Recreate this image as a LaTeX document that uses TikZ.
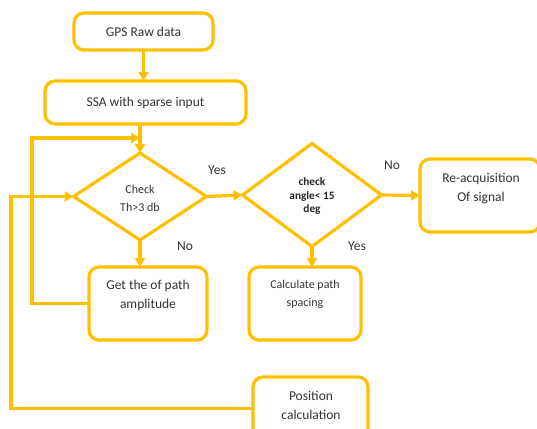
\documentclass[tikz,border=0pt]{standalone}
\usepackage{fontspec}
\setmainfont{Carlito}
\usetikzlibrary{arrows.meta,shapes.geometric}
\definecolor{gold}{HTML}{FFC000}
\begin{document}
\begin{tikzpicture}[x=1pt,y=-1pt,
  box/.style={draw=gold,line width=3.2pt,rounded corners=10pt,inner sep=0pt,outer sep=0pt},
  dia/.style={draw=gold,line width=3.2pt,diamond,inner sep=0pt,outer sep=0pt},
  conn/.style={draw=gold,line width=3.2pt,-{Triangle[length=9pt,width=10pt]}},
  wire/.style={draw=gold,line width=3.2pt},
  txt/.style={font=\fontsize{13.5}{19}\selectfont,text=black!80,align=center},
  stxt/.style={font=\fontsize{12}{18}\selectfont,text=black!80,align=center},
  btxt/.style={font=\bfseries\fontsize{11.3}{13.5}\selectfont,text=black!85,align=center},
  lbl/.style={font=\fontsize{13.5}{15}\selectfont,text=black!80}]
\clip (0,0) rectangle (537,428);
% boxes
\node[box,minimum width=139,minimum height=37,txt] (gps) at (143.5,31.5) {GPS Raw data};
\node[box,minimum width=201,minimum height=43,txt] (ssa) at (145.5,102.5) {SSA with sparse input};
\node[dia,minimum width=133,minimum height=87] (d1) at (140,196.5) {};
\node[stxt] (d1t) at (140,198) {Check\\Th>3 db};
\node[dia,minimum width=139,minimum height=103] (d2) at (312,195) {};
\node[btxt] (d2t) at (312,196) {check\\angle< 15\\deg};
\node[box,minimum width=120,minimum height=73] (rea) at (480,195.5) {};
\node[txt] (reat) at (481,188.5) {Re-acquisition\\Of signal};
\node[box,minimum width=118,minimum height=73] (get) at (148,303.5) {};
\node[txt] (gett) at (148,295.5) {Get the of path\\amplitude};
\node[box,minimum width=112,minimum height=73] (calc) at (305,303.5) {};
\node[stxt] (calct) at (305,294) {Calculate path\\spacing};
\node[box,minimum width=115,minimum height=63] (pos) at (310.5,408.5) {};
\node[txt] (post) at (311,405.5) {Position\\calculation};
% labels
\node[lbl] (y1) at (217,170) {Yes};
\node[lbl] (n1) at (185,246) {No};
\node[lbl] (n2) at (392,165) {No};
\node[lbl] (y2) at (357,246) {Yes};
% helper coordinates
\coordinate (j1) at (140,138);
\coordinate (lx1) at (32,0);
\coordinate (lx2) at (11,0);
% connectors
\draw[conn] (gps.south) -- (gps.south |- ssa.north);
\draw[conn] (d1.north |- ssa.south) -- (d1.north);
\draw[conn] (get.west) -- (get.west -| lx1) |- (j1);
\draw[conn] (pos.west) -- (pos.west -| lx2) |- (d1.west);
\draw[conn] (d1.south) -- (d1.south |- get.north);
\draw[conn] (d1.east) -- (d2.west);
\draw[conn] (d2.east) -- (rea.west);
\draw[conn] (d2.south) -- (d2.south |- calc.north);
\end{tikzpicture}
\end{document}
